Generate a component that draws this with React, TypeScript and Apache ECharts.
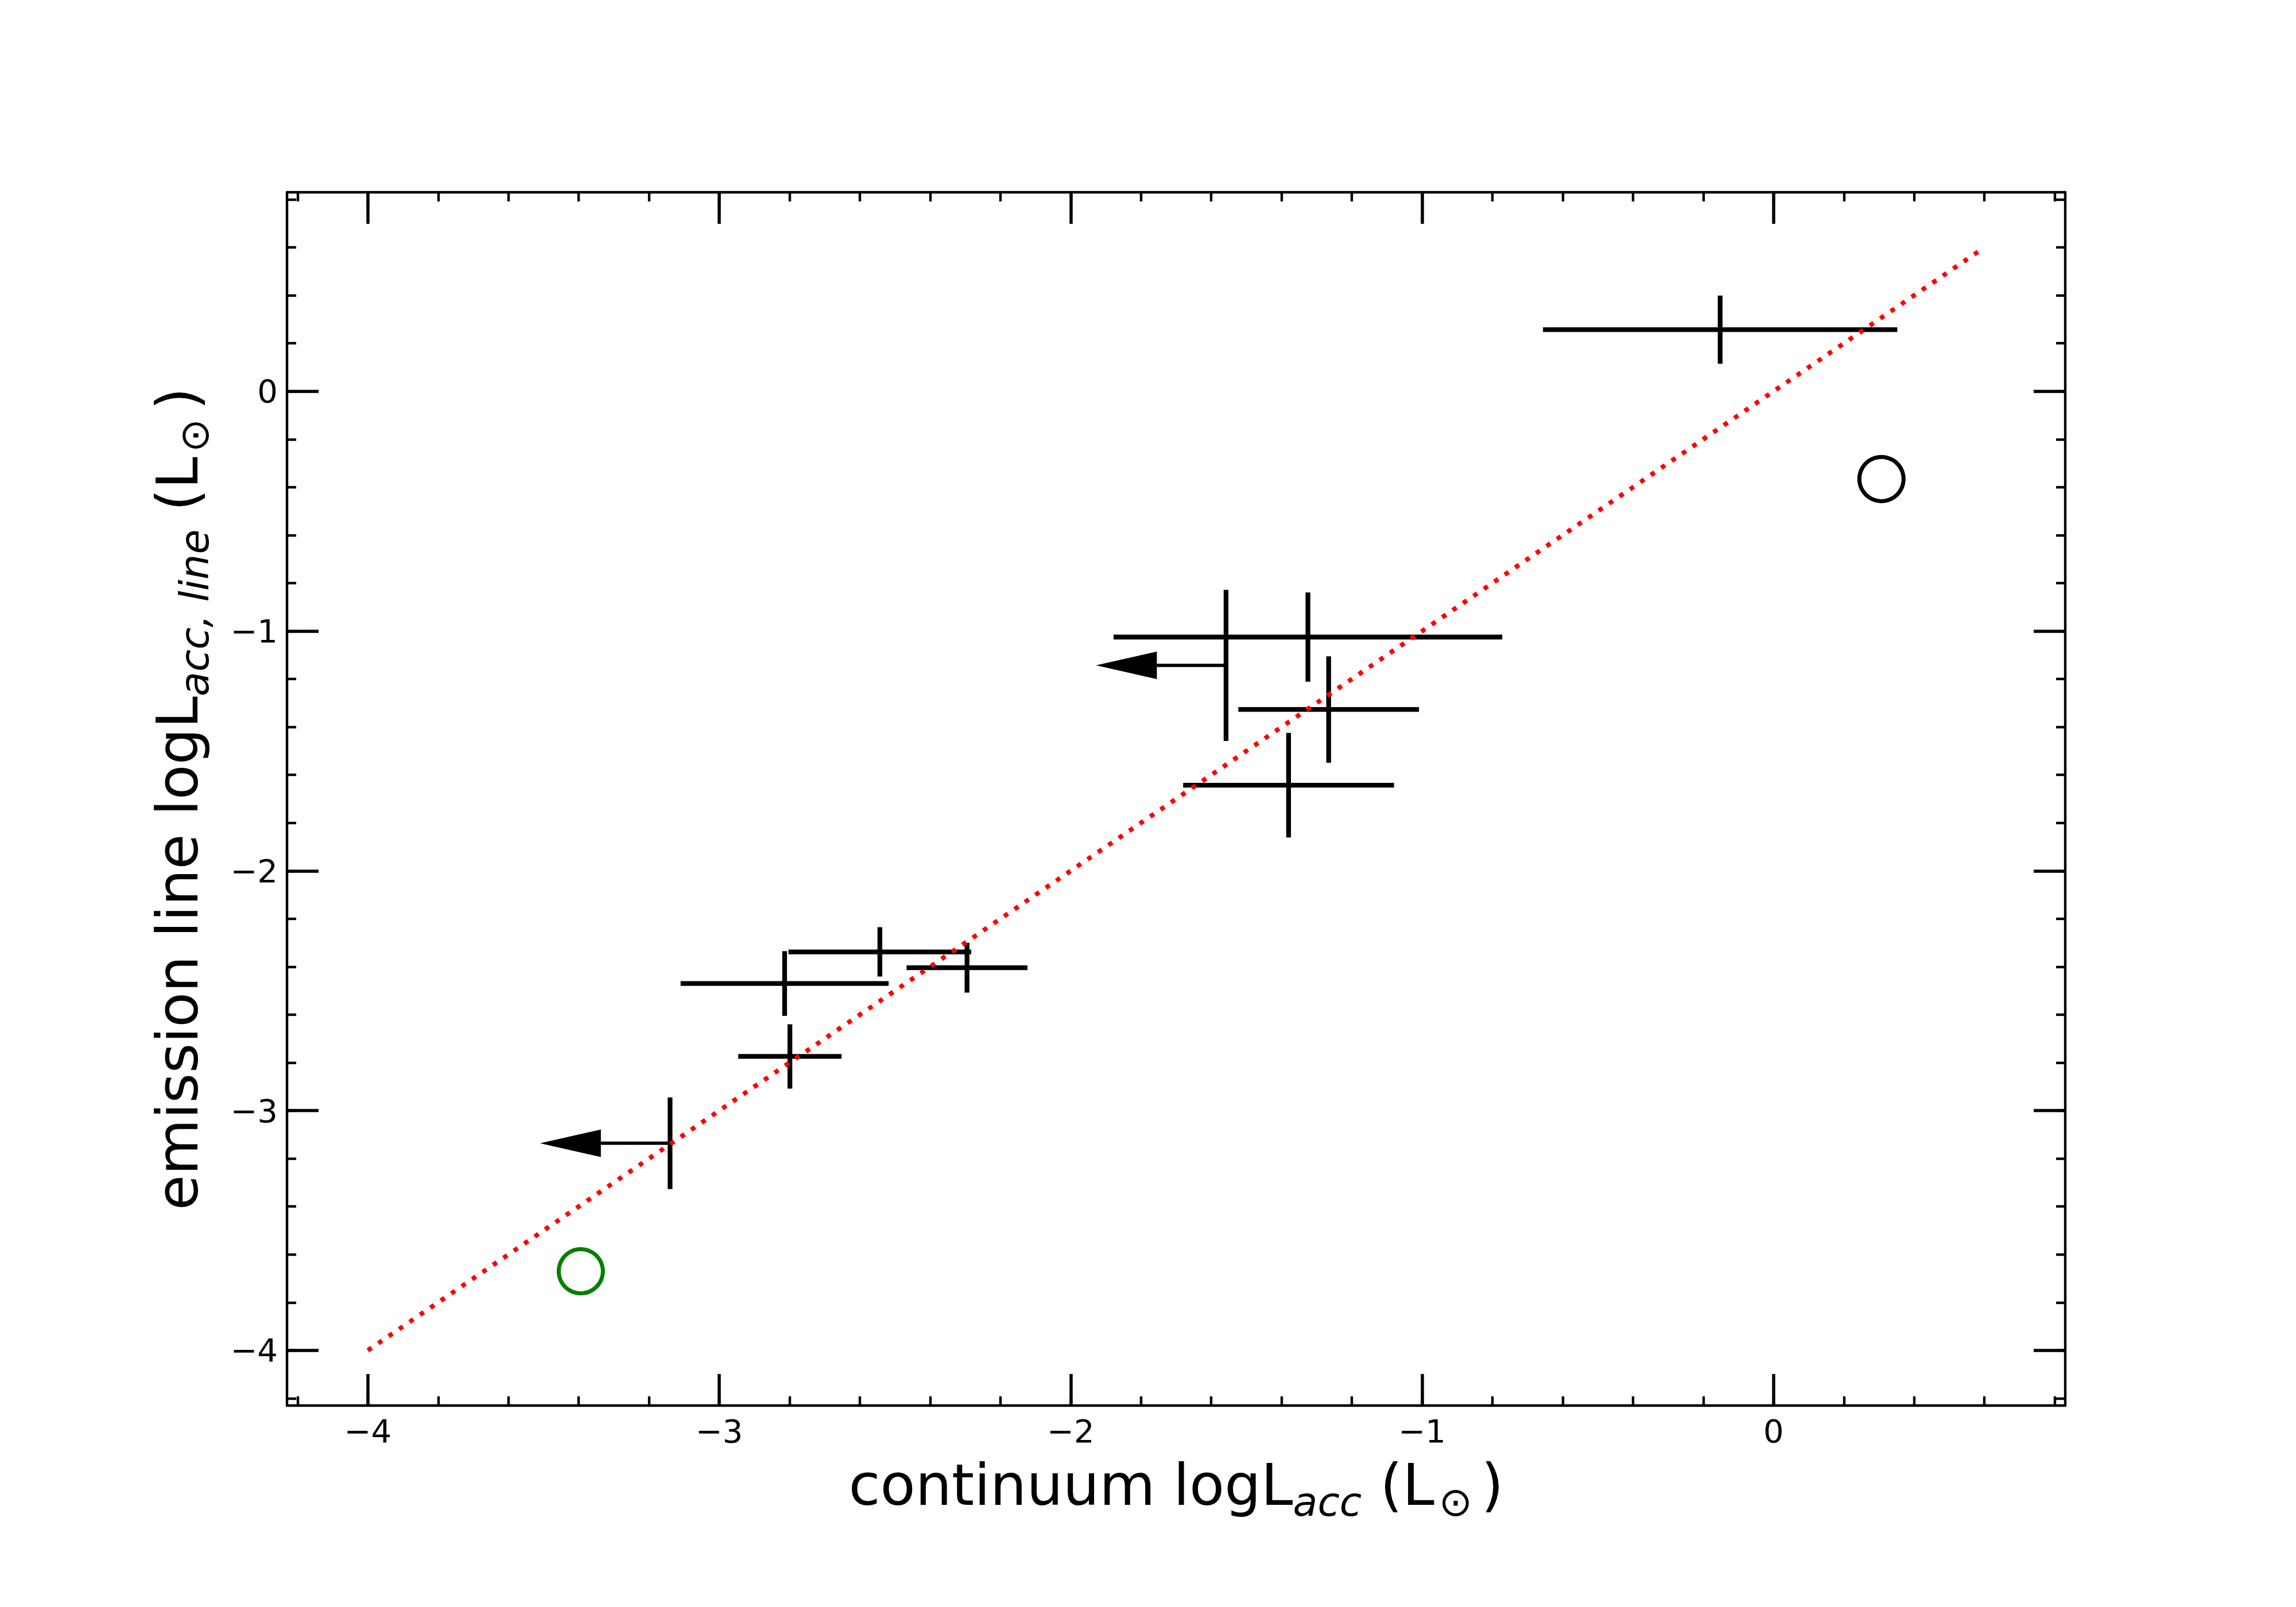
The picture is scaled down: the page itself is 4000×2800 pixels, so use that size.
import React, { useEffect, useRef } from 'react';
import * as echarts from 'echarts';

// ---- axis ranges & ticks ----
const X_MIN = -4.23;
const X_MAX = 0.83;
const Y_MIN = -4.23;
const Y_MAX = 0.83;
const xMajorTicks = [-4, -3, -2, -1, 0];
const yMajorTicks = [-4, -3, -2, -1, 0];
const xMinorTicks = [-4.2, -4, -3.8, -3.6, -3.4, -3.2, -3, -2.8, -2.6, -2.4, -2.2, -2, -1.8, -1.6, -1.4, -1.2, -1, -0.8, -0.6, -0.4, -0.2, 0, 0.2, 0.4, 0.6, 0.8];
const yMinorTicks = [-4.2, -4, -3.8, -3.6, -3.4, -3.2, -3, -2.8, -2.6, -2.4, -2.2, -2, -1.8, -1.6, -1.4, -1.2, -1, -0.8, -0.6, -0.4, -0.2, 0, 0.2, 0.4, 0.6, 0.8];

// ---- measurements with error bars in both coordinates ----
const crossX = [-0.152, -1.325, -1.266, -1.38, -2.543, -2.295, -2.814, -2.799];
const crossY = [0.257, -1.025, -1.327, -1.643, -2.338, -2.404, -2.47, -2.774];
const crossXErr = [0.504, 0.553, 0.257, 0.3, 0.26, 0.172, 0.296, 0.147];
const crossYErr = [0.142, 0.186, 0.222, 0.218, 0.103, 0.104, 0.135, 0.134];

// ---- upper limits (leftward arrows) ----
const limX = [-1.558, -3.14];
const limY = [-1.143, -3.136];
const limYErr = [0.315, 0.191];
const limArrowDx = [-0.37, -0.37];

// ---- open circles ----
const blackCircle = [[0.307, -0.366]];
const greenCircle = [[-3.394, -3.67]];

// ---- 1:1 relation ----
const fitLine = [[-4, -4], [0.6, 0.6]];

const FONT = 'DejaVu Sans';

const fmt = (v: number) => (v < 0 ? '\u2212' + Math.abs(v) : String(v));

const nameRich = {
  n: { fontSize: 100, fontFamily: FONT, color: '#000', lineHeight: 115, verticalAlign: 'top' },
  s: { fontSize: 70, fontFamily: FONT, fontStyle: 'italic', color: '#000', lineHeight: 80, padding: [45, 0, 0, 0], verticalAlign: 'top' },
  o: { fontSize: 70, fontFamily: FONT, color: '#000', lineHeight: 80, padding: [45, 15, 0, 8], verticalAlign: 'top' },
};

function makeAxis(kind: 'major' | 'minor', position: string, ticks: number[], min: number, max: number, withLabel: boolean, extra: any = {}) {
  return {
    type: 'value',
    min,
    max,
    position,
    splitLine: { show: false },
    axisLine: { show: kind === 'major', onZero: false, lineStyle: { color: '#000', width: 4.4 } },
    axisTick: {
      show: true,
      inside: true,
      length: kind === 'major' ? 55 : 16,
      customValues: ticks,
      lineStyle: { color: '#000', width: kind === 'major' ? 5.5 : 4.4 },
    },
    axisLabel: withLabel
      ? { show: true, customValues: ticks, formatter: fmt, fontSize: 56, fontFamily: FONT, color: '#000', margin: 16 }
      : { show: false },
    ...extra,
  };
}

export default function App() {
  const ref = useRef<HTMLDivElement>(null);

  useEffect(() => {
    if (!ref.current) return;
    const chart = echarts.init(ref.current, undefined, { renderer: 'svg' });

    const crossData = crossX.map((x, i) => [x, crossY[i], crossXErr[i], crossYErr[i]]);
    const limData = limX.map((x, i) => [x, limY[i], limYErr[i], limArrowDx[i]]);

    const option: any = {
      animation: false,
      backgroundColor: '#ffffff',
      grid: { left: 500, top: 335, width: 3098, height: 2114, containLabel: false },
      xAxis: [
        makeAxis('major', 'bottom', xMajorTicks, X_MIN, X_MAX, true, {
          name: '{n|continuum logL}{s|acc}{n| (L}{o|\u2299}{n|)}',
          nameLocation: 'middle',
          nameGap: 88,
          nameTextStyle: { fontSize: 100, fontFamily: FONT, color: '#000', rich: nameRich },
        }),
        makeAxis('minor', 'bottom', xMinorTicks, X_MIN, X_MAX, false),
        makeAxis('major', 'top', xMajorTicks, X_MIN, X_MAX, false),
        makeAxis('minor', 'top', xMinorTicks, X_MIN, X_MAX, false),
      ],
      yAxis: [
        makeAxis('major', 'left', yMajorTicks, Y_MIN, Y_MAX, true, {
          name: '{n|emission line logL}{s|acc, line}{n| (L}{o|\u2299}{n|)}',
          nameLocation: 'middle',
          nameRotate: 90,
          nameGap: 126,
          nameTextStyle: { fontSize: 100, fontFamily: FONT, color: '#000', rich: nameRich },
        }),
        makeAxis('minor', 'left', yMinorTicks, Y_MIN, Y_MAX, false),
        makeAxis('major', 'right', yMajorTicks, Y_MIN, Y_MAX, false),
        makeAxis('minor', 'right', yMinorTicks, Y_MIN, Y_MAX, false),
      ],
      series: [
        {
          type: 'custom',
          name: 'errorbars',
          xAxisIndex: 0,
          yAxisIndex: 0,
          z: 2,
          clip: false,
          data: crossData,
          encode: { x: 0, y: 1 },
          renderItem: (params: any, api: any) => {
            const x = api.value(0);
            const y = api.value(1);
            const ex = api.value(2);
            const ey = api.value(3);
            const l = api.coord([x - ex, y]);
            const r = api.coord([x + ex, y]);
            const t = api.coord([x, y + ey]);
            const b = api.coord([x, y - ey]);
            const st = { stroke: '#000', lineWidth: 8.3, lineCap: 'butt' };
            return {
              type: 'group',
              children: [
                { type: 'line', shape: { x1: l[0], y1: l[1], x2: r[0], y2: r[1] }, style: st },
                { type: 'line', shape: { x1: t[0], y1: t[1], x2: b[0], y2: b[1] }, style: st },
              ],
            };
          },
        },
        {
          type: 'custom',
          name: 'limits',
          xAxisIndex: 0,
          yAxisIndex: 0,
          z: 2,
          clip: false,
          data: limData,
          encode: { x: 0, y: 1 },
          renderItem: (params: any, api: any) => {
            const x = api.value(0);
            const y = api.value(1);
            const ey = api.value(2);
            const dx = api.value(3);
            const p = api.coord([x, y]);
            const t = api.coord([x, y + ey]);
            const b = api.coord([x, y - ey]);
            const tip = api.coord([x + dx, y]);
            const headLen = 106;
            const headW = 48;
            return {
              type: 'group',
              children: [
                { type: 'line', shape: { x1: t[0], y1: t[1], x2: b[0], y2: b[1] }, style: { stroke: '#000', lineWidth: 8.3 } },
                { type: 'line', shape: { x1: p[0], y1: p[1], x2: tip[0] + headLen, y2: p[1] }, style: { stroke: '#000', lineWidth: 5.7 } },
                {
                  type: 'polygon',
                  shape: { points: [[tip[0], p[1]], [tip[0] + headLen, p[1] - headW / 2], [tip[0] + headLen, p[1] + headW / 2]] },
                  style: { fill: '#000', stroke: 'none' },
                },
              ],
            };
          },
        },
        {
          type: 'scatter',
          name: 'black circle',
          data: blackCircle,
          symbol: 'circle',
          symbolSize: 77,
          z: 3,
          itemStyle: { color: 'rgba(0,0,0,0)', borderColor: '#000000', borderWidth: 7, opacity: 1 },
        },
        {
          type: 'scatter',
          name: 'green circle',
          data: greenCircle,
          symbol: 'circle',
          symbolSize: 77,
          z: 3,
          itemStyle: { color: 'rgba(0,0,0,0)', borderColor: '#008000', borderWidth: 7, opacity: 1 },
        },
        {
          type: 'line',
          name: '1:1',
          data: fitLine,
          showSymbol: false,
          symbol: 'none',
          z: 5,
          lineStyle: { color: '#ff0000', width: 8, type: [8, 14], cap: 'butt' },
        },
      ],
    };

    chart.setOption(option);
    return () => chart.dispose();
  }, []);

  return <div ref={ref} style={{ position: 'fixed', left: 0, top: 0, width: 4000, height: 2800 }} />;
}
